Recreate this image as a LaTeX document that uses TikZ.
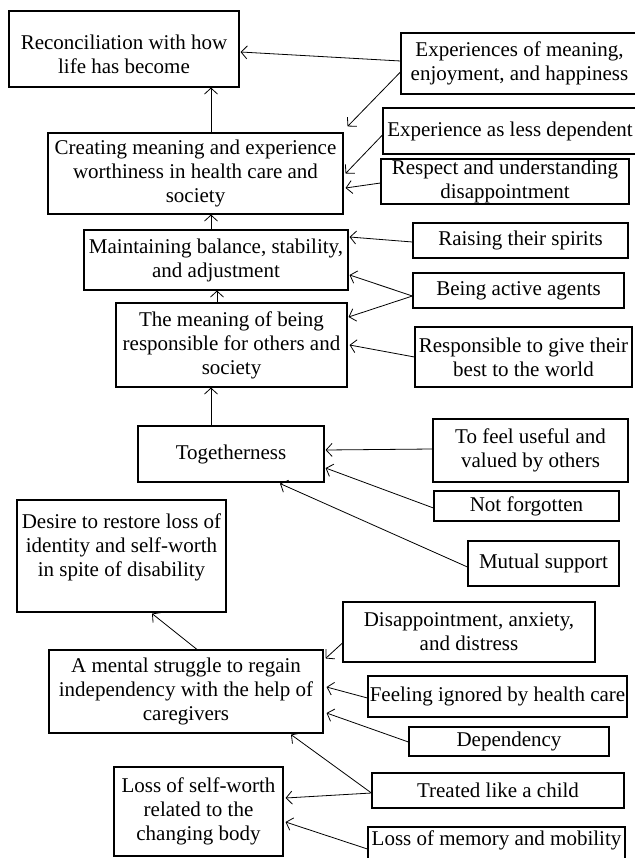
\documentclass[tikz,border=0pt]{standalone}
\usepackage{fontspec}
\setmainfont{Liberation Serif}
\usetikzlibrary{arrows.meta}
\tikzset{
  box/.style={draw, line width=1.1pt, inner sep=0pt, align=center,
    font=\fontsize{21}{24}\selectfont},
  arr/.style={line width=0.8pt, -{Straight Barb[length=6pt,width=13pt]}},
}
\newcommand{\mybox}[6]{%
  \node[box, minimum width={#4-#2}, minimum height={#5-#3}] (#1)
    at ({(#2+#4)/2},{(#3+#5)/2}) {#6};}
\begin{document}
\begin{tikzpicture}[x=1pt,y=-1pt]
\useasboundingbox (0,0) rectangle (634,858);
\mybox{recon}{9}{11}{239}{87}{\rule{0pt}{25pt}Reconciliation with how\\life has become}
\mybox{exper}{401}{33}{638}{94}{Experiences of meaning,\\enjoyment, and happiness}
\mybox{creat}{48}{133}{343}{214}{Creating meaning and experience\\worthiness in health care and\\society}
\mybox{lessdep}{383}{108}{637}{154}{Experience as less dependent}
\mybox{respect}{381}{159}{629}{204}{Respect and understanding\\disappointment}
\mybox{maint}{84}{230}{348}{290}{Maintaining balance, stability,\\and adjustment}
\mybox{raise}{413}{223}{628}{258}{Raising their spirits}
\mybox{active}{413}{273}{624}{308}{Being active agents}
\mybox{meaning}{116}{303}{347}{387}{The meaning of being\\responsible for others and\\society}
\mybox{respon}{415}{327}{632}{387}{Responsible to give their\\best to the world}
\mybox{together}{138}{426}{324}{482}{Togetherness}
\mybox{useful}{433}{419}{628}{482}{To feel useful and\\valued by others}
\mybox{notforg}{434}{491}{619}{521}{Not forgotten}
\mybox{mutual}{468}{541}{619}{586}{Mutual support}
\mybox{desire}{17}{500}{226}{612}{Desire to restore loss of\\identity and self-worth\\in spite of disability\rule[-21pt]{0pt}{1pt}}
\mybox{disap}{343}{602}{595}{662}{Disappointment, anxiety,\\and distress}
\mybox{mental}{49}{650}{323}{733}{A mental struggle to regain\\independency with the help of\\caregivers}
\mybox{ignored}{368}{676}{627}{717}{Feeling ignored by health care}
\mybox{depend}{409}{727}{609}{756}{Dependency}
\mybox{treated}{372}{773}{624}{808}{Treated like a child}
\mybox{lossmem}{368}{827}{625}{866}{Loss of memory and mobility\rule[-17pt]{0pt}{1pt}}
\mybox{losssw}{114}{767}{283}{856}{Loss of self-worth\\related to the\\changing body}
% vertical chain
\coordinate (e1) at ([xshift=15.5pt]creat.north);
\coordinate (f1) at ([xshift=-5pt]maint.north);
\coordinate (g1) at ([xshift=-14.5pt]meaning.north);
\coordinate (h1) at ([xshift=-20pt]together.north);
\draw[arr] (e1) -- (e1 |- recon.south);
\draw[arr] (f1) -- (f1 |- creat.south);
\draw[arr] (g1) -- (g1 |- maint.south);
\draw[arr] (h1) -- (h1 |- meaning.south);
% top group
\draw[arr] ([yshift=2.5pt]exper.west) -- ([xshift=1pt,yshift=-3pt]recon.east);
\draw[arr] ([yshift=-8.5pt]exper.west) -- ([xshift=4pt,yshift=6pt]creat.north east);
\draw[arr] ([yshift=-4pt]lessdep.west) -- ([xshift=2pt]creat.east);
\draw[arr] ([yshift=-1.5pt]respect.west) -- ([xshift=2pt,yshift=-14.5pt]creat.east);
% maintaining / meaning
\draw[arr] ([yshift=-1.5pt]raise.west) -- ([xshift=1pt,yshift=23pt]maint.east);
\draw[arr] ([yshift=-5.5pt]active.west) -- ([xshift=1pt,yshift=-15pt]maint.east);
\draw[arr] ([yshift=-5.5pt]active.west) -- ([xshift=1pt,yshift=28pt]meaning.east);
\draw[arr] (respon.west) -- ([xshift=2pt]meaning.east);
% togetherness
\draw[arr] ([yshift=1.5pt]useful.west) -- ([xshift=1pt,yshift=4pt]together.east);
\draw[arr] ([yshift=-2pt]notforg.west) -- ([xshift=1pt,yshift=-14pt]together.east);
\draw[arr] ([yshift=-3.5pt]mutual.west) -- ([xshift=49pt,yshift=-1pt]together.south);
% lower part
\draw[arr] ([xshift=11pt]mental.north) -- ([xshift=30.5pt,yshift=-1pt]desire.south);
\draw[arr] ([yshift=-11pt]disap.west) -- ([xshift=2pt,yshift=-9pt]mental.north east);
\draw[arr] ([yshift=-1.5pt]ignored.west) -- ([xshift=3pt,yshift=4.5pt]mental.east);
\draw[arr] ([yshift=-0.5pt]depend.west) -- ([xshift=3pt,yshift=-21.5pt]mental.east);
\draw[arr] ([yshift=-2.5pt]treated.west) -- ([xshift=105pt,yshift=-1pt]mental.south);
\draw[arr] ([yshift=-2.5pt]treated.west) -- ([xshift=2pt,yshift=13.5pt]losssw.east);
\draw[arr] ([yshift=-2.5pt]lossmem.west) -- ([xshift=2pt,yshift=-10.5pt]losssw.east);
\end{tikzpicture}
\end{document}
